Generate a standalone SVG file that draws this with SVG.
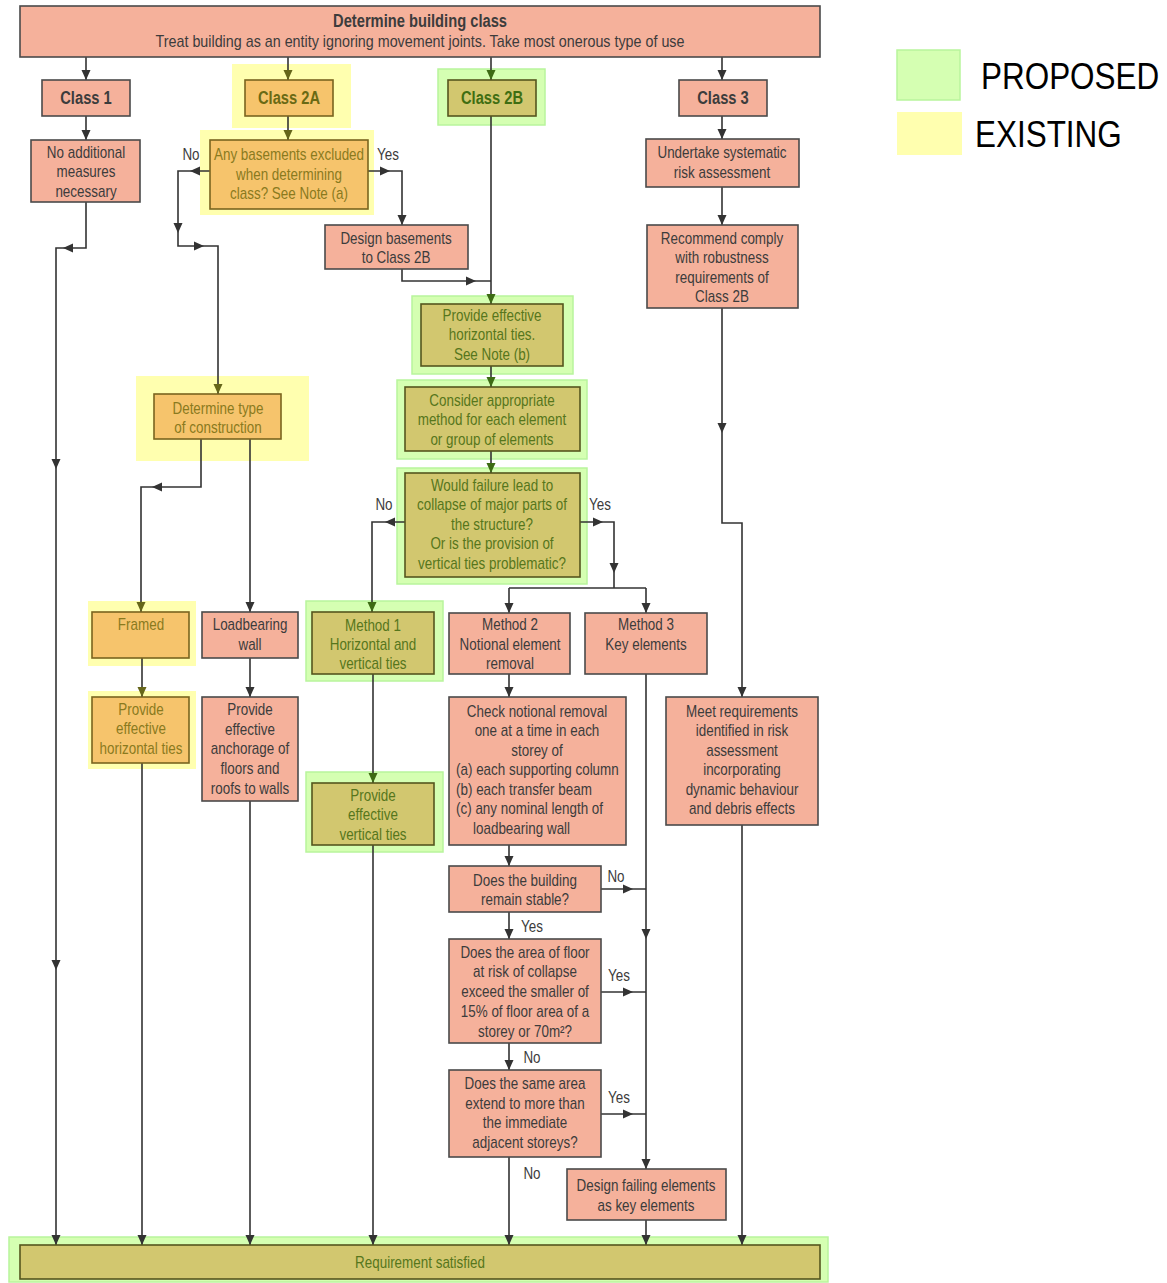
<svg xmlns="http://www.w3.org/2000/svg" xmlns:xlink="http://www.w3.org/1999/xlink" width="1167" height="1283" viewBox="0 0 1167 1283">
<style>
.hy{fill:#FFFFAF}
.hg{fill:#D5FFB2;stroke:#B8F59C;stroke-width:1.5}
.bs{fill:#F5B19B;stroke:#4a4a4a;stroke-width:1.6}
.bo{fill:#F6C46C;stroke:#7a6420;stroke-width:1.6}
.bv{fill:#D2C76F;stroke:#55561e;stroke-width:1.6}
text{font-family:"Liberation Sans",Arial,sans-serif;font-size:16px;text-anchor:middle}
.ts{fill:#3c3c3c}
.to{fill:#8a7a1e}
.tv{fill:#56761c}
.b{font-weight:bold;font-size:17.5px}
.l{text-anchor:start}
.c{fill:none;stroke:#333;stroke-width:1.6}
.ah{fill:#333}
.leg{font-size:37px;text-anchor:start;fill:#000}
</style>
<defs>
<marker id="a" markerWidth="10" markerHeight="10" refX="10" refY="5" orient="auto" markerUnits="userSpaceOnUse"><path d="M0,0.5 L10,5 L0,9.5 Z" fill="#333"/></marker>
<marker id="ao" markerWidth="10" markerHeight="10" refX="10" refY="5" orient="auto" markerUnits="userSpaceOnUse"><path d="M0,0.5 L10,5 L0,9.5 Z" fill="#66661a"/></marker>
<marker id="ag" markerWidth="10" markerHeight="10" refX="10" refY="5" orient="auto" markerUnits="userSpaceOnUse"><path d="M0,0.5 L10,5 L0,9.5 Z" fill="#3d6b14"/></marker>
<path id="m" d="M-5,-4.5 L5,0 L-5,4.5 Z"/>
</defs>

<g id="legend">
<rect x="897" y="50" width="63" height="50" class="hg"/>
<rect x="897" y="112" width="65" height="43" class="hy"/>
<text class="leg" transform="translate(981,89) scale(.85,1)">PROPOSED</text>
<text class="leg" transform="translate(975,147) scale(.85,1)">EXISTING</text>
</g>

<g id="highlights">
<rect x="232" y="64" width="119" height="64" class="hy"/>
<rect x="200" y="130" width="174" height="85" class="hy"/>
<rect x="438" y="69" width="107" height="56" class="hg"/>
<rect x="412" y="296" width="161" height="78" class="hg"/>
<rect x="397" y="380" width="190" height="79" class="hg"/>
<rect x="397" y="468" width="190" height="116" class="hg"/>
<rect x="136" y="376" width="173" height="85" class="hy"/>
<rect x="88" y="601" width="108" height="65" class="hy"/>
<rect x="88" y="691" width="108" height="78" class="hy"/>
<rect x="306" y="601" width="137" height="80" class="hg"/>
<rect x="306" y="772" width="137" height="80" class="hg"/>
<rect x="9" y="1237" width="819" height="45" class="hg"/>
</g>

<g id="connectors">
<path class="c" d="M86,57 V80" marker-end="url(#a)"/>
<path class="c" d="M288,57 V80" marker-end="url(#ao)"/>
<path class="c" d="M491,57 V80" marker-end="url(#ag)"/>
<path class="c" d="M722,57 V80" marker-end="url(#a)"/>
<path class="c" d="M86,116 V140" marker-end="url(#a)"/>
<path class="c" d="M288,116 V140" marker-end="url(#ao)"/>
<path class="c" d="M722,116 V139" marker-end="url(#a)"/>
<path class="c" d="M86,202 V248 H56 V1245" marker-end="url(#a)"/>
<path class="c" d="M210,171 H178 V246 H218 V394" marker-end="url(#ao)"/>
<path class="c" d="M368,171 H402 V225" marker-end="url(#a)"/>
<path class="c" d="M402,269 V281 H491"/>
<path class="c" d="M491,116 V304" marker-end="url(#ag)"/>
<path class="c" d="M491,366 V387" marker-end="url(#ag)"/>
<path class="c" d="M491,451 V473" marker-end="url(#ag)"/>
<path class="c" d="M405,522 H372 V612" marker-end="url(#ag)"/>
<path class="c" d="M580,522 H614 V588"/>
<path class="c" d="M509,588 H646"/>
<path class="c" d="M509,588 V613" marker-end="url(#a)"/>
<path class="c" d="M646,588 V613" marker-end="url(#a)"/>
<path class="c" d="M373,674 V783" marker-end="url(#ag)"/>
<path class="c" d="M373,845 V1245" marker-end="url(#a)"/>
<path class="c" d="M509,674 V697" marker-end="url(#a)"/>
<path class="c" d="M509,845 V866" marker-end="url(#a)"/>
<path class="c" d="M509,912 V939" marker-end="url(#a)"/>
<path class="c" d="M509,1043 V1070" marker-end="url(#a)"/>
<path class="c" d="M509,1157 V1245" marker-end="url(#a)"/>
<path class="c" d="M601,889 H646"/>
<path class="c" d="M601,992 H646"/>
<path class="c" d="M601,1114 H646"/>
<path class="c" d="M646,674 V1169" marker-end="url(#a)"/>
<path class="c" d="M646,1220 V1245" marker-end="url(#a)"/>
<path class="c" d="M722,187 V225" marker-end="url(#a)"/>
<path class="c" d="M722,308 V523 H742 V697" marker-end="url(#a)"/>
<path class="c" d="M742,825 V1245" marker-end="url(#a)"/>
<path class="c" d="M201,439 V487 H141 V612" marker-end="url(#ao)"/>
<path class="c" d="M250,439 V612" marker-end="url(#a)"/>
<path class="c" d="M142,658 V697" marker-end="url(#ao)"/>
<path class="c" d="M142,763 V1245" marker-end="url(#a)"/>
<path class="c" d="M250,658 V697" marker-end="url(#a)"/>
<path class="c" d="M250,801 V1245" marker-end="url(#a)"/>
<use xlink:href="#m" class="ah" transform="translate(68,248) rotate(180)"/>
<use xlink:href="#m" class="ah" transform="translate(56,464) rotate(90)"/>
<use xlink:href="#m" class="ah" transform="translate(56,965) rotate(90)"/>
<use xlink:href="#m" class="ah" transform="translate(195,171) rotate(180)"/>
<use xlink:href="#m" class="ah" transform="translate(178,228) rotate(90)"/>
<use xlink:href="#m" class="ah" transform="translate(199,246)"/>
<use xlink:href="#m" class="ah" transform="translate(385,171)"/>
<use xlink:href="#m" class="ah" transform="translate(471,281)"/>
<use xlink:href="#m" class="ah" transform="translate(390,522) rotate(180)"/>
<use xlink:href="#m" class="ah" transform="translate(598,522)"/>
<use xlink:href="#m" class="ah" transform="translate(614,568) rotate(90)"/>
<use xlink:href="#m" class="ah" transform="translate(628,889)"/>
<use xlink:href="#m" class="ah" transform="translate(628,992)"/>
<use xlink:href="#m" class="ah" transform="translate(628,1114)"/>
<use xlink:href="#m" class="ah" transform="translate(646,934) rotate(90)"/>
<use xlink:href="#m" class="ah" transform="translate(722,428) rotate(90)"/>
<use xlink:href="#m" class="ah" transform="translate(157,487) rotate(180)"/>
</g>

<g id="edge-labels">
<text class="ts" transform="translate(191,160) scale(.84,1)">No</text>
<text class="ts" transform="translate(388,160) scale(.84,1)">Yes</text>
<text class="ts" transform="translate(384,510) scale(.84,1)">No</text>
<text class="ts" transform="translate(600,510) scale(.84,1)">Yes</text>
<text class="ts" transform="translate(616,882) scale(.84,1)">No</text>
<text class="ts" transform="translate(532,932) scale(.84,1)">Yes</text>
<text class="ts" transform="translate(619,981) scale(.84,1)">Yes</text>
<text class="ts" transform="translate(532,1063) scale(.84,1)">No</text>
<text class="ts" transform="translate(619,1103) scale(.84,1)">Yes</text>
<text class="ts" transform="translate(532,1179) scale(.84,1)">No</text>
</g>

<g id="header">
<rect x="20" y="6" width="800" height="51" class="bs"/>
<text class="ts b" transform="translate(420,27) scale(.84,1)">Determine building class</text>
<text class="ts" transform="translate(420,47) scale(.895,1)">Treat building as an entity ignoring movement joints. Take most onerous type of use</text>
</g>
<g id="class1"><rect x="42" y="80" width="88" height="36" class="bs"/><text class="ts b" transform="translate(86,104) scale(.84,1)">Class 1</text></g>
<g id="class2a"><rect x="245" y="80" width="88" height="36" class="bo"/><text class="b" fill="#6a6a14" transform="translate(289,104) scale(.84,1)">Class 2A</text></g>
<g id="class2b"><rect x="448" y="80" width="88" height="36" class="bv"/><text class="b" fill="#3f6e12" transform="translate(492,104) scale(.84,1)">Class 2B</text></g>
<g id="class3"><rect x="679" y="80" width="88" height="36" class="bs"/><text class="ts b" transform="translate(723,104) scale(.84,1)">Class 3</text></g>

<g id="no-additional"><rect x="31" y="140" width="109" height="62" class="bs"/>
<text class="ts" transform="translate(86,158) scale(.84,1)">No additional</text>
<text class="ts" transform="translate(86,177) scale(.84,1)">measures</text>
<text class="ts" transform="translate(86,197) scale(.84,1)">necessary</text></g>

<g id="basements-q"><rect x="210" y="140" width="158" height="69" class="bo"/>
<text class="to" transform="translate(289,160) scale(.84,1)">Any basements excluded</text>
<text class="to" transform="translate(289,180) scale(.84,1)">when determining</text>
<text class="to" transform="translate(289,199) scale(.84,1)">class? See Note (a)</text></g>

<g id="design-basements"><rect x="325" y="225" width="143" height="44" class="bs"/>
<text class="ts" transform="translate(396,244) scale(.84,1)">Design basements</text>
<text class="ts" transform="translate(396,263) scale(.84,1)">to Class 2B</text></g>

<g id="undertake"><rect x="646" y="139" width="153" height="48" class="bs"/>
<text class="ts" transform="translate(722,158) scale(.84,1)">Undertake systematic</text>
<text class="ts" transform="translate(722,178) scale(.84,1)">risk assessment</text></g>

<g id="recommend"><rect x="647" y="225" width="151" height="83" class="bs"/>
<text class="ts" transform="translate(722,244) scale(.84,1)">Recommend comply</text>
<text class="ts" transform="translate(722,263) scale(.84,1)">with robustness</text>
<text class="ts" transform="translate(722,283) scale(.84,1)">requirements of</text>
<text class="ts" transform="translate(722,302) scale(.84,1)">Class 2B</text></g>

<g id="horiz-ties"><rect x="421" y="304" width="142" height="62" class="bv"/>
<text class="tv" transform="translate(492,321) scale(.84,1)">Provide effective</text>
<text class="tv" transform="translate(492,340) scale(.84,1)">horizontal ties.</text>
<text class="tv" transform="translate(492,360) scale(.84,1)">See Note (b)</text></g>

<g id="consider"><rect x="405" y="387" width="175" height="64" class="bv"/>
<text class="tv" transform="translate(492,406) scale(.84,1)">Consider appropriate</text>
<text class="tv" transform="translate(492,425) scale(.84,1)">method for each element</text>
<text class="tv" transform="translate(492,445) scale(.84,1)">or group of elements</text></g>

<g id="would-failure"><rect x="405" y="473" width="175" height="104" class="bv"/>
<text class="tv" transform="translate(492,491) scale(.84,1)">Would failure lead to</text>
<text class="tv" transform="translate(492,510) scale(.84,1)">collapse of major parts of</text>
<text class="tv" transform="translate(492,530) scale(.84,1)">the structure?</text>
<text class="tv" transform="translate(492,549) scale(.84,1)">Or is the provision of</text>
<text class="tv" transform="translate(492,569) scale(.84,1)">vertical ties problematic?</text></g>

<g id="determine-type"><rect x="154" y="394" width="127" height="45" class="bo"/>
<text class="to" transform="translate(218,414) scale(.84,1)">Determine type</text>
<text class="to" transform="translate(218,433) scale(.84,1)">of construction</text></g>

<g id="framed"><rect x="92" y="612" width="97" height="46" class="bo"/>
<text class="to" transform="translate(141,630) scale(.84,1)">Framed</text></g>

<g id="loadbearing"><rect x="202" y="612" width="96" height="46" class="bs"/>
<text class="ts" transform="translate(250,630) scale(.84,1)">Loadbearing</text>
<text class="ts" transform="translate(250,650) scale(.84,1)">wall</text></g>

<g id="method1"><rect x="312" y="612" width="122" height="62" class="bv"/>
<text class="tv" transform="translate(373,631) scale(.84,1)">Method 1</text>
<text class="tv" transform="translate(373,650) scale(.84,1)">Horizontal and</text>
<text class="tv" transform="translate(373,669) scale(.84,1)">vertical ties</text></g>

<g id="method2"><rect x="449" y="613" width="121" height="61" class="bs"/>
<text class="ts" transform="translate(510,630) scale(.84,1)">Method 2</text>
<text class="ts" transform="translate(510,650) scale(.84,1)">Notional element</text>
<text class="ts" transform="translate(510,669) scale(.84,1)">removal</text></g>

<g id="method3"><rect x="585" y="613" width="122" height="61" class="bs"/>
<text class="ts" transform="translate(646,630) scale(.84,1)">Method 3</text>
<text class="ts" transform="translate(646,650) scale(.84,1)">Key elements</text></g>

<g id="left-horiz-ties"><rect x="92" y="697" width="97" height="66" class="bo"/>
<text class="to" transform="translate(141,715) scale(.84,1)">Provide</text>
<text class="to" transform="translate(141,734) scale(.84,1)">effective</text>
<text class="to" transform="translate(141,754) scale(.84,1)">horizontal ties</text></g>

<g id="anchorage"><rect x="202" y="697" width="96" height="104" class="bs"/>
<text class="ts" transform="translate(250,715) scale(.84,1)">Provide</text>
<text class="ts" transform="translate(250,735) scale(.84,1)">effective</text>
<text class="ts" transform="translate(250,754) scale(.84,1)">anchorage of</text>
<text class="ts" transform="translate(250,774) scale(.84,1)">floors and</text>
<text class="ts" transform="translate(250,794) scale(.84,1)">roofs to walls</text></g>

<g id="vertical-ties"><rect x="312" y="783" width="122" height="62" class="bv"/>
<text class="tv" transform="translate(373,801) scale(.84,1)">Provide</text>
<text class="tv" transform="translate(373,820) scale(.84,1)">effective</text>
<text class="tv" transform="translate(373,840) scale(.84,1)">vertical ties</text></g>

<g id="check-notional"><rect x="449" y="697" width="177" height="148" class="bs"/>
<text class="ts" transform="translate(537,717) scale(.84,1)">Check notional removal</text>
<text class="ts" transform="translate(537,736) scale(.84,1)">one at a time in each</text>
<text class="ts" transform="translate(537,756) scale(.84,1)">storey of</text>
<text class="ts l" transform="translate(456,775) scale(.84,1)">(a) each supporting column</text>
<text class="ts l" transform="translate(456,795) scale(.84,1)">(b) each transfer beam</text>
<text class="ts l" transform="translate(456,814) scale(.84,1)">(c) any nominal length of</text>
<text class="ts l" transform="translate(473,834) scale(.84,1)">loadbearing wall</text></g>

<g id="meet"><rect x="666" y="697" width="152" height="128" class="bs"/>
<text class="ts" transform="translate(742,717) scale(.84,1)">Meet requirements</text>
<text class="ts" transform="translate(742,736) scale(.84,1)">identified in risk</text>
<text class="ts" transform="translate(742,756) scale(.84,1)">assessment</text>
<text class="ts" transform="translate(742,775) scale(.84,1)">incorporating</text>
<text class="ts" transform="translate(742,795) scale(.84,1)">dynamic behaviour</text>
<text class="ts" transform="translate(742,814) scale(.84,1)">and debris effects</text></g>

<g id="stable"><rect x="449" y="866" width="152" height="46" class="bs"/>
<text class="ts" transform="translate(525,886) scale(.84,1)">Does the building</text>
<text class="ts" transform="translate(525,905) scale(.84,1)">remain stable?</text></g>

<g id="area"><rect x="449" y="939" width="152" height="104" class="bs"/>
<text class="ts" transform="translate(525,958) scale(.84,1)">Does the area of floor</text>
<text class="ts" transform="translate(525,977) scale(.84,1)">at risk of collapse</text>
<text class="ts" transform="translate(525,997) scale(.84,1)">exceed the smaller of</text>
<text class="ts" transform="translate(525,1017) scale(.84,1)">15% of floor area of a</text>
<text class="ts" transform="translate(525,1037) scale(.84,1)">storey or 70m²?</text></g>

<g id="same-area"><rect x="449" y="1070" width="152" height="87" class="bs"/>
<text class="ts" transform="translate(525,1089) scale(.84,1)">Does the same area</text>
<text class="ts" transform="translate(525,1109) scale(.84,1)">extend to more than</text>
<text class="ts" transform="translate(525,1128) scale(.84,1)">the immediate</text>
<text class="ts" transform="translate(525,1148) scale(.84,1)">adjacent storeys?</text></g>

<g id="design-failing"><rect x="567" y="1169" width="159" height="51" class="bs"/>
<text class="ts" transform="translate(646,1191) scale(.84,1)">Design failing elements</text>
<text class="ts" transform="translate(646,1211) scale(.84,1)">as key elements</text></g>

<g id="requirement"><rect x="20" y="1245" width="800" height="34" class="bv"/>
<text class="tv" transform="translate(420,1268) scale(.84,1)">Requirement satisfied</text></g>
</svg>
